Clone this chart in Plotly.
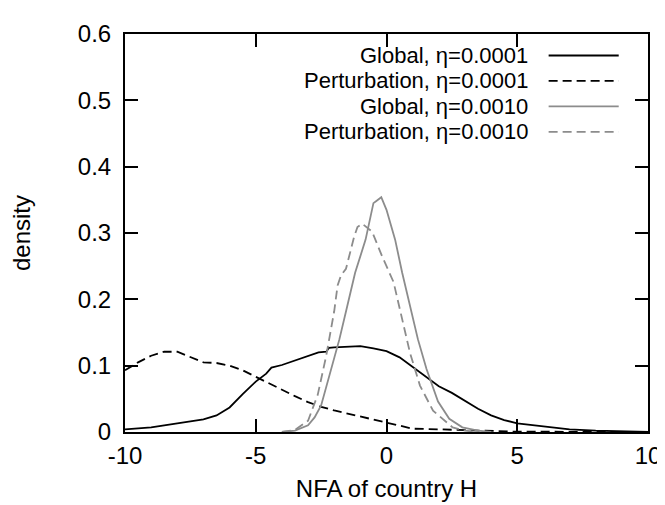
import plotly.graph_objects as go

# Global, eta=0.0001 (black solid)
g1_x = [-10, -9, -8, -7, -6.5, -6, -5.5, -5, -4.6, -4.4, -4, -3.5, -3, -2.6, -2.3, -2.2, -2, -1.5, -1, -0.5, 0, 0.5, 1, 1.5, 2, 2.5, 3, 3.5, 4, 4.5, 5, 6, 7, 8, 9, 10]
g1_y = [0.004, 0.007, 0.013, 0.019, 0.025, 0.037, 0.057, 0.076, 0.088, 0.097, 0.101, 0.108, 0.115, 0.12, 0.121, 0.127, 0.1275, 0.128, 0.1295, 0.126, 0.122, 0.1125, 0.098, 0.083, 0.069, 0.059, 0.047, 0.035, 0.025, 0.018, 0.013, 0.008, 0.004, 0.002, 0.0005, 0.0]

# Perturbation, eta=0.0001 (black dashed)
p1_x = [-10, -9.5, -9, -8.5, -8, -7.5, -7, -6.5, -6, -5.5, -5, -4.5, -4, -3.5, -3, -2.5, -2, -1.5, -1, -0.5, 0, 0.5, 1, 2, 3, 4, 5, 10]
p1_y = [0.093, 0.105, 0.115, 0.121, 0.121, 0.1125, 0.105, 0.104, 0.1, 0.093, 0.083, 0.074, 0.064, 0.054, 0.045, 0.038, 0.0325, 0.028, 0.023, 0.019, 0.014, 0.009, 0.005, 0.004, 0.003, 0.0015, 0.0005, 0.0]

# Global, eta=0.0010 (gray solid)
g2_x = [-4, -3.5, -3, -2.75, -2.5, -2.1, -1.8, -1.5, -1.2, -0.8, -0.6, -0.5, -0.4, -0.2, 0, 0.33, 0.6, 0.9, 1.2, 1.53, 1.97, 2.4, 2.9, 3.5, 4]
g2_y = [0.0, 0.002, 0.01, 0.022, 0.04, 0.095, 0.14, 0.19, 0.24, 0.29, 0.33, 0.345, 0.348, 0.354, 0.335, 0.29, 0.24, 0.192, 0.14, 0.095, 0.046, 0.02, 0.007, 0.002, 0.0]

# Perturbation, eta=0.0010 (gray dashed)
p2_x = [-4, -3.5, -3.0, -2.63, -2.31, -2.0, -1.87, -1.74, -1.55, -1.24, -1.11, -0.93, -0.55, -0.17, 0.27, 0.52, 0.9, 1.28, 1.78, 2.53, 3.0, 3.5]
p2_y = [0.0, 0.003, 0.017, 0.056, 0.114, 0.182, 0.221, 0.236, 0.246, 0.294, 0.309, 0.314, 0.302, 0.265, 0.226, 0.182, 0.119, 0.07, 0.032, 0.007, 0.002, 0.0]

legend_labels = ["Global, \u03b7=0.0001", "Perturbation, \u03b7=0.0001", "Global, \u03b7=0.0010", "Perturbation, \u03b7=0.0010"]
x_ticks = [-10, -5, 0, 5, 10]
y_ticks = [0, 0.1, 0.2, 0.3, 0.4, 0.5, 0.6]
y_tick_text = ["0", "0.1", "0.2", "0.3", "0.4", "0.5", "0.6"]

BLACK = "#000000"
GRAY = "#8c8c8c"
DASH = "9px,5px"

styles = [
    dict(color=BLACK, width=1.8, dash="solid"),
    dict(color=BLACK, width=1.8, dash=DASH),
    dict(color=GRAY, width=1.8, dash="solid"),
    dict(color=GRAY, width=1.8, dash=DASH),
]
series = [(g1_x, g1_y), (p1_x, p1_y), (g2_x, g2_y), (p2_x, p2_y)]

fig = go.Figure()
for (xs, ys), st, name in zip(series, styles, legend_labels):
    fig.add_trace(go.Scatter(x=xs, y=ys, mode="lines", line=st, name=name, showlegend=False))

FONT = "Liberation Sans, Arial, sans-serif"
FS = 24
LFS = 22

# manual gnuplot-style legend: right-aligned text, sample line on right
row_y = [0.946, 0.882, 0.818, 0.754]
for lbl, st, yy in zip(legend_labels, styles, row_y):
    fig.add_annotation(x=0.774, y=yy, xref="paper", yref="paper", text=lbl,
                       showarrow=False, xanchor="right", yanchor="middle",
                       font=dict(family=FONT, size=LFS, color="black"))
    fig.add_shape(type="line", xref="paper", yref="paper", x0=0.81, x1=0.944, y0=yy, y1=yy,
                  line=dict(color=st["color"], width=st["width"], dash=st["dash"]))

axis_common = dict(showline=True, linecolor="black", linewidth=2, mirror="allticks",
                   ticks="inside", ticklen=13, tickwidth=2, tickcolor="black",
                   showgrid=False, zeroline=False,
                   tickfont=dict(family=FONT, size=FS, color="black"))

fig.update_xaxes(range=[-10, 10], tickvals=x_ticks, ticktext=[str(v) for v in x_ticks],
                 ticklabelstandoff=1,
                 title=dict(text="NFA of country H", font=dict(family=FONT, size=FS, color="black"), standoff=12),
                 **axis_common)
fig.update_yaxes(range=[0, 0.6], tickvals=y_ticks, ticktext=y_tick_text,
                 ticklabelstandoff=7,
                 title=dict(text="density", font=dict(family=FONT, size=FS, color="black"), standoff=40),
                 **axis_common)

fig.update_layout(width=665, height=505, margin=dict(l=117, r=17, t=16, b=81),
                  plot_bgcolor="white", paper_bgcolor="white", showlegend=False,
                  font=dict(family=FONT, size=FS, color="black"))

fig.write_html("out.html")
